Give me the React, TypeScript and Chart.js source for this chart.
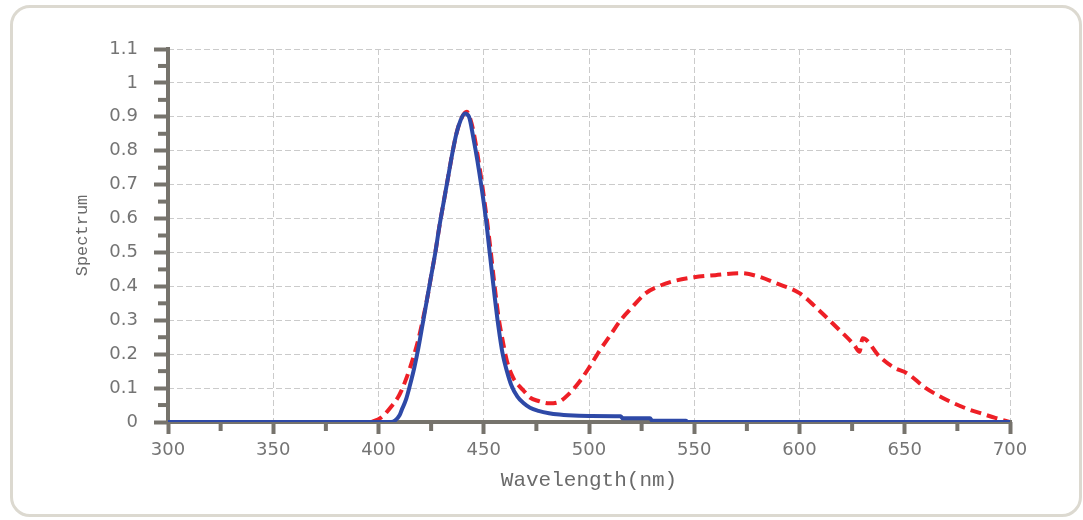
import React, { useEffect, useRef } from "react";
import { Chart, registerables } from "chart.js";

Chart.register(...registerables);

// ---- data ----
const blueWavelengths = [
  300, 406, 408, 410, 411, 413, 415, 417, 419, 421, 423, 425, 427, 429, 431, 433, 435, 437, 439, 441,
  443, 445, 447, 449, 451, 453, 455, 457, 459, 461, 463, 466, 469, 472, 476, 481, 486, 490, 500, 515,
  516, 529, 530, 546, 547, 700,
];
const blueValues = [
  0, 0, 0.005, 0.02, 0.035, 0.065, 0.11, 0.16, 0.22, 0.29, 0.36, 0.43, 0.5, 0.58, 0.65, 0.72, 0.79, 0.85, 0.89, 0.91,
  0.9, 0.84, 0.77, 0.69, 0.6, 0.49, 0.38, 0.28, 0.2, 0.15, 0.11, 0.075, 0.055, 0.042, 0.033, 0.026, 0.022, 0.02, 0.018, 0.017,
  0.011, 0.011, 0.004, 0.004, 0, 0,
];

const redWavelengths = [
  300, 396, 398, 401, 404, 406, 409, 411, 413, 415, 417, 419, 421, 423, 425, 427, 429, 431, 433, 435,
  437, 439, 441, 442, 443, 445, 447, 449, 451, 453, 455, 457, 459, 461, 464, 467, 469, 472, 476, 481,
  486, 490, 495, 500, 505, 510, 515, 520, 527, 533, 540, 550, 560, 572, 580, 589, 600, 610, 619, 626,
  628.5, 630, 638, 645, 651, 660, 670, 680, 686, 693, 700,
];
const redValues = [
  0, 0, 0.003, 0.012, 0.03, 0.045, 0.07, 0.094, 0.125, 0.16, 0.2, 0.245, 0.3, 0.36, 0.43, 0.5, 0.58, 0.65, 0.72, 0.79,
  0.85, 0.89, 0.912, 0.915, 0.905, 0.86, 0.79, 0.71, 0.62, 0.52, 0.41, 0.31, 0.24, 0.18, 0.13, 0.105, 0.092, 0.072, 0.062, 0.055,
  0.06, 0.08, 0.115, 0.16, 0.21, 0.255, 0.3, 0.335, 0.38, 0.4, 0.415, 0.427, 0.433, 0.439, 0.43, 0.409, 0.38, 0.325, 0.271, 0.227,
  0.207, 0.247, 0.193, 0.16, 0.144, 0.1, 0.065, 0.038, 0.026, 0.012, 0,
];

const xTickValues = [300, 350, 400, 450, 500, 550, 600, 650, 700];
const xTickLabels = ["300", "350", "400", "450", "500", "550", "600", "650", "700"];
const xMinorTicks = [325, 375, 425, 475, 525, 575, 625, 675];
const yTickValues = [0, 0.1, 0.2, 0.3, 0.4, 0.5, 0.6, 0.7, 0.8, 0.9, 1.0, 1.1];
const yTickLabels = ["0", "0.1", "0.2", "0.3", "0.4", "0.5", "0.6", "0.7", "0.8", "0.9", "1", "1.1"];
const yMinorTicks = [0.05, 0.15, 0.25, 0.35, 0.45, 0.55, 0.65, 0.75, 0.85, 0.95, 1.05];
const xTitle = "Wavelength(nm)";
const yTitle = "Spectrum";

// ---- styles ----
const AXIS = "#76736c";
const GRID = "#cbcbcb";
const LABEL = "#747474";
const BLUE = "#2e49a7";
const RED = "#ee1f26";

const axisPlugin = {
  id: "axisLinesAndMinorTicks",
  beforeDatasetsDraw(chart: any) {
    const { ctx, chartArea } = chart;
    const xs = chart.scales.x;
    const ys = chart.scales.y;
    ctx.save();
    ctx.strokeStyle = AXIS;
    ctx.lineWidth = 4;
    ctx.setLineDash([]);
    // axis lines
    ctx.beginPath();
    ctx.moveTo(chartArea.left, chartArea.top - 2);
    ctx.lineTo(chartArea.left, chartArea.bottom + 2);
    ctx.moveTo(chartArea.left - 2, chartArea.bottom);
    ctx.lineTo(chartArea.right + 2, chartArea.bottom);
    ctx.stroke();
    // minor ticks
    xMinorTicks.forEach((v) => {
      const px = xs.getPixelForValue(v);
      ctx.beginPath();
      ctx.moveTo(px, chartArea.bottom);
      ctx.lineTo(px, chartArea.bottom + 9);
      ctx.stroke();
    });
    yMinorTicks.forEach((v) => {
      const py = ys.getPixelForValue(v);
      ctx.beginPath();
      ctx.moveTo(chartArea.left - 10, py);
      ctx.lineTo(chartArea.left, py);
      ctx.stroke();
    });
    ctx.restore();
  },
};

export default function App() {
  const canvasRef = useRef<HTMLCanvasElement | null>(null);

  useEffect(() => {
    const canvas = canvasRef.current;
    if (!canvas) return;
    const chart = new Chart(canvas, {
      type: "line",
      data: {
        datasets: [
          {
            label: "blue",
            data: blueWavelengths.map((x, i) => ({ x, y: blueValues[i] })),
            borderColor: BLUE,
            borderWidth: 4,
            pointRadius: 0,
            cubicInterpolationMode: "monotone",
            fill: false,
          },
          {
            label: "red",
            data: redWavelengths.map((x, i) => ({ x, y: redValues[i] })),
            borderColor: RED,
            borderWidth: 4,
            borderDash: [11, 6],
            pointRadius: 0,
            cubicInterpolationMode: "monotone",
            fill: false,
          },
        ],
      },
      options: {
        animation: false,
        responsive: false,
        maintainAspectRatio: false,
        layout: { padding: { top: 49, right: 73, left: 0, bottom: 0 } },
        plugins: {
          legend: { display: false },
          tooltip: { enabled: false },
        },
        scales: {
          x: {
            type: "linear",
            min: 300,
            max: 700,
            afterBuildTicks: (scale: any) => {
              scale.ticks = xTickValues.map((v) => ({ value: v }));
            },
            afterFit: (scale: any) => {
              scale.height = 98;
            },
            ticks: {
              autoSkip: false,
              maxRotation: 0,
              padding: 6,
              color: LABEL,
              font: { family: "DejaVu Sans", size: 18 },
              callback: (value: any) => {
                const i = xTickValues.indexOf(Number(value));
                return i >= 0 ? xTickLabels[i] : "";
              },
            },
            grid: {
              color: GRID,
              lineWidth: 1,
              tickLength: 12,
              tickColor: AXIS,
              tickWidth: 4,
            },
            border: { display: false, color: AXIS, width: 4, dash: [6, 3] },
            title: {
              display: true,
              text: xTitle,
              color: "#6a6a6a",
              font: { family: "Liberation Mono", size: 21 },
              padding: { top: 0, bottom: 27 },
            },
          },
          y: {
            type: "linear",
            min: 0,
            max: 1.1,
            afterBuildTicks: (scale: any) => {
              scale.ticks = yTickValues.map((v) => ({ value: v }));
            },
            afterFit: (scale: any) => {
              scale.width = 168;
            },
            ticks: {
              autoSkip: false,
              padding: 16,
              color: LABEL,
              font: { family: "DejaVu Sans", size: 18 },
              callback: (value: any) => {
                const i = yTickValues.findIndex((t) => Math.abs(t - Number(value)) < 1e-6);
                return i >= 0 ? yTickLabels[i] : "";
              },
            },
            grid: {
              color: GRID,
              lineWidth: 1,
              tickLength: 14,
              tickColor: AXIS,
              tickWidth: 4,
            },
            border: { display: false, color: AXIS, width: 4, dash: [6, 3] },
            title: {
              display: true,
              text: yTitle,
              color: "#6a6a6a",
              font: { family: "Liberation Mono", size: 17 },
              padding: { top: 72, bottom: 0 },
            },
          },
        },
      },
      plugins: [axisPlugin],
    } as any);
    return () => chart.destroy();
  }, []);

  return (
    <div style={{ position: "absolute", left: 0, top: 0, width: 1083, height: 520, background: "#ffffff" }}>
      <div
        style={{
          position: "absolute",
          left: 10,
          top: 5,
          width: 1072,
          height: 512,
          boxSizing: "border-box",
          border: "3px solid #dcd9d0",
          borderRadius: 20,
        }}
      />
      <canvas
        ref={canvasRef}
        width={1083}
        height={520}
        style={{ position: "absolute", left: 0, top: 0, width: 1083, height: 520 }}
      />
    </div>
  );
}
